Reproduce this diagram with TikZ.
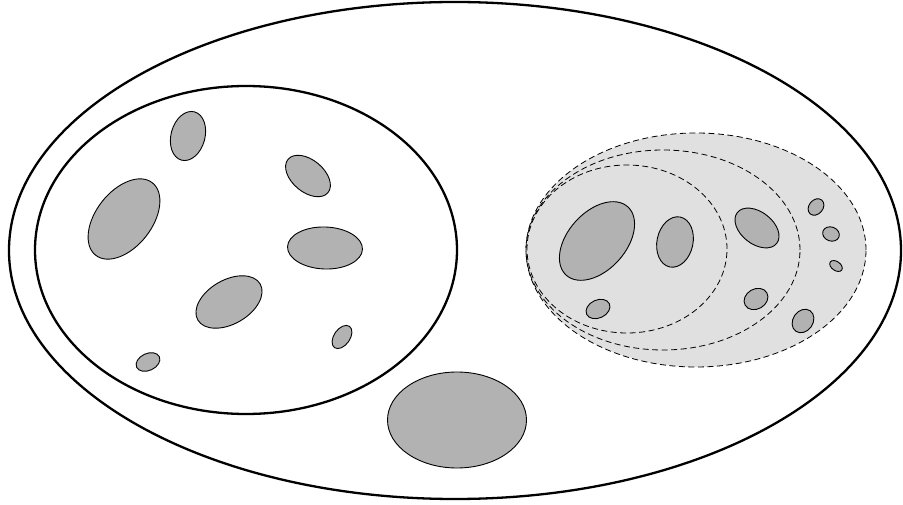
\documentclass[tikz,border=0pt]{standalone}
\usepackage{tikz}
\definecolor{cBlob}{RGB}{178,178,178}
\definecolor{cZone}{RGB}{224,224,224}
\tikzset{
	region/.style={draw=black, line width=2.3pt},
	zone/.style  ={draw=black, line width=0.8pt, dash pattern=on 6pt off 3.5pt},
	blob/.style  ={draw=black, line width=0.9pt, fill=cBlob},
}

\begin{document}
\begin{tikzpicture}[x=1pt, y=1pt]
	\useasboundingbox (0,0) rectangle (903,504);
	% outer and left regions
	\draw[region] (455,253.5) ellipse (446 and 248.5);
	\draw[region] (246,254) ellipse (211 and 164);
	% dashed nested zones
	\fill[cZone] (696,254) ellipse (170 and 117);
	\draw[zone] (696,254) ellipse (170 and 117);
	\draw[zone] (663,254) ellipse (137 and 100);
	\draw[zone] (627,255) ellipse (100 and 84);
	% blobs in left region
	\draw[blob, shift={(188,368)}, rotate=-15] (0,0) ellipse (17 and 25);
	\draw[blob, shift={(124,285)}, rotate=52] (0,0) ellipse (46 and 28);
	\draw[blob, shift={(308,328)}, rotate=-40] (0,0) ellipse (26 and 16);
	\draw[blob, shift={(325,256)}, rotate=-2] (0,0) ellipse (37.5 and 21);
	\draw[blob, shift={(229,202)}, rotate=30] (0,0) ellipse (36 and 22);
	\draw[blob, shift={(342,167)}, rotate=55] (0,0) ellipse (13 and 8);
	\draw[blob, shift={(148,142)}, rotate=25] (0,0) ellipse (12.5 and 8.5);
	% blob below
	\draw[blob] (457,84) ellipse (69.5 and 48);
	% blobs in zones
	\draw[blob, shift={(597,263)}, rotate=48] (0,0) ellipse (46 and 29);
	\draw[blob, shift={(675,262)}, rotate=-12] (0,0) ellipse (18 and 25.5);
	\draw[blob, shift={(757,276)}, rotate=-38] (0,0) ellipse (25 and 16);
	\draw[blob, shift={(598,195)}, rotate=25] (0,0) ellipse (12.5 and 9);
	\draw[blob, shift={(756,205)}, rotate=30] (0,0) ellipse (12.5 and 10);
	\draw[blob, shift={(803,183)}, rotate=55] (0,0) ellipse (12.5 and 10);
	\draw[blob, shift={(816,297)}, rotate=50] (0,0) ellipse (9 and 7);
	\draw[blob, shift={(831,270)}, rotate=-20] (0,0) ellipse (8.5 and 7);
	\draw[blob, shift={(836,238)}, rotate=-35] (0,0) ellipse (7 and 4.5);
\end{tikzpicture}
\end{document}
